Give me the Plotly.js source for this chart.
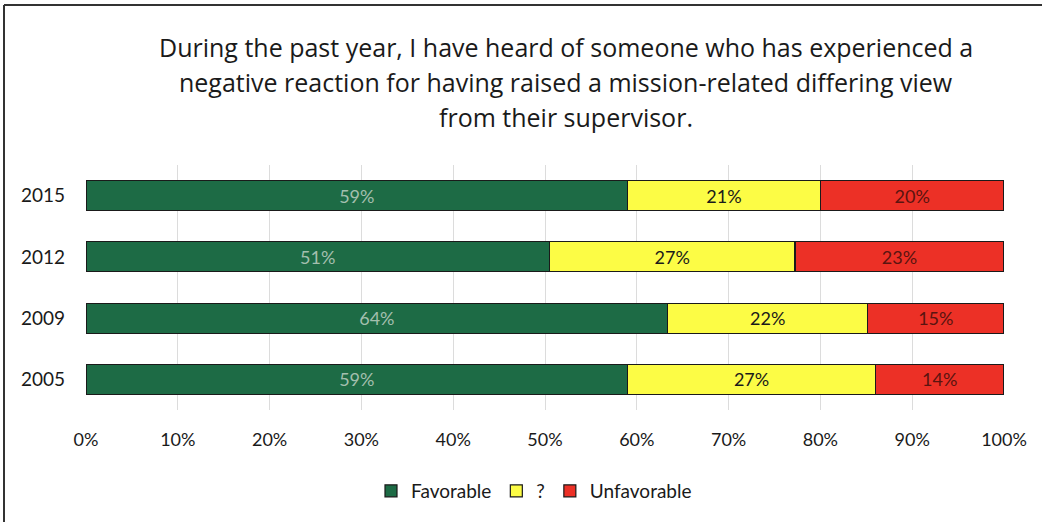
<!DOCTYPE html>
<html>
<head>
<meta charset="utf-8">
<script src="https://cdn.plot.ly/plotly-3.0.1.min.js"></script>
<style>html,body{margin:0;padding:0;background:#fff;}#chart{width:1042px;height:522px;}</style>
</head>
<body>
<div id="chart"></div>
<script>
const years = ['2005', '2009', '2012', '2015'];
const favorable = [59, 64, 51, 59];
const neutral = [27, 22, 27, 21];
const unfavorable = [14, 15, 23, 20];
const seriesNames = ['Favorable', '?', 'Unfavorable'];
const titleLines = [
  'During the past year, I have heard of someone who has experienced a',
  'negative reaction for having raised a mission-related differing view',
  'from their supervisor.'
];
const tickValues = [0, 10, 20, 30, 40, 50, 60, 70, 80, 90, 100];

const FONT = 'Lato, "Open Sans", sans-serif';
function mk(name, vals, color, txtColor) {
  return {
    type: 'bar', orientation: 'h', name: name,
    y: years, x: vals,
    text: vals.map(v => v + '%'),
    textposition: 'inside', insidetextanchor: 'middle',
    textfont: {family: FONT, size: 18, color: txtColor},
    hoverinfo: 'skip',
    marker: {color: color, line: {color: '#1a1a1a', width: 1.2}},
    width: 0.49
  };
}
const data = [
  mk(seriesNames[0], favorable, '#1d6b45', '#a3bfae'),
  mk(seriesNames[1], neutral, '#fcfc45', '#1a1a1a'),
  mk(seriesNames[2], unfavorable, '#ec3026', '#5a1410')
];

const annotations = titleLines.map((t, i) => ({
  text: t, xref: 'paper', yref: 'paper', x: (566 - 86) / 918,
  y: (410 - (47 + 35 * i)) / 245, xanchor: 'center', yanchor: 'middle',
  showarrow: false, font: {family: '"Open Sans", Lato, sans-serif', size: 25, color: '#1a1a1a'}
}));

const layout = {
  width: 1042, height: 522,
  margin: {l: 86, r: 38, t: 165, b: 112, pad: 0},
  paper_bgcolor: '#fff', plot_bgcolor: '#fff',
  barmode: 'stack', barnorm: 'percent',
  showlegend: true,
  legend: {orientation: 'h', x: (534 - 86) / 918, xanchor: 'center', y: (410 - 491) / 245, yanchor: 'middle',
    font: {family: FONT, size: 19, color: '#1a1a1a'}, traceorder: 'normal', itemwidth: 30},
  xaxis: {range: [0, 100], tickvals: tickValues, ticktext: tickValues.map(v => v + '%'),
    showgrid: true, gridcolor: '#dcdcdc', gridwidth: 1, zeroline: false, showline: false,
    ticks: '', ticklen: 0, ticklabelstandoff: 17,
    tickfont: {family: FONT, size: 18, color: '#1a1a1a'}, fixedrange: true},
  yaxis: {type: 'category', categoryorder: 'array', categoryarray: years, range: [-0.5, 3.5],
    showgrid: false, zeroline: false, showline: false, ticks: '', ticklen: 0, ticklabelstandoff: 20,
    tickfont: {family: FONT, size: 19, color: '#1a1a1a'}, fixedrange: true},
  annotations: annotations,
  shapes: [
    {type: 'line', xref: 'paper', yref: 'paper', x0: (4 - 86) / 918, x1: (1042 - 86) / 918,
      y0: (410 - 5) / 245, y1: (410 - 5) / 245, line: {color: '#333', width: 2}},
    {type: 'line', xref: 'paper', yref: 'paper', x0: (4 - 86) / 918, x1: (4 - 86) / 918,
      y0: (410 - 5) / 245, y1: (410 - 522) / 245, line: {color: '#333', width: 2}}
  ]
};
Plotly.newPlot('chart', data, layout, {displayModeBar: false, staticPlot: true});
</script>
</body>
</html>
